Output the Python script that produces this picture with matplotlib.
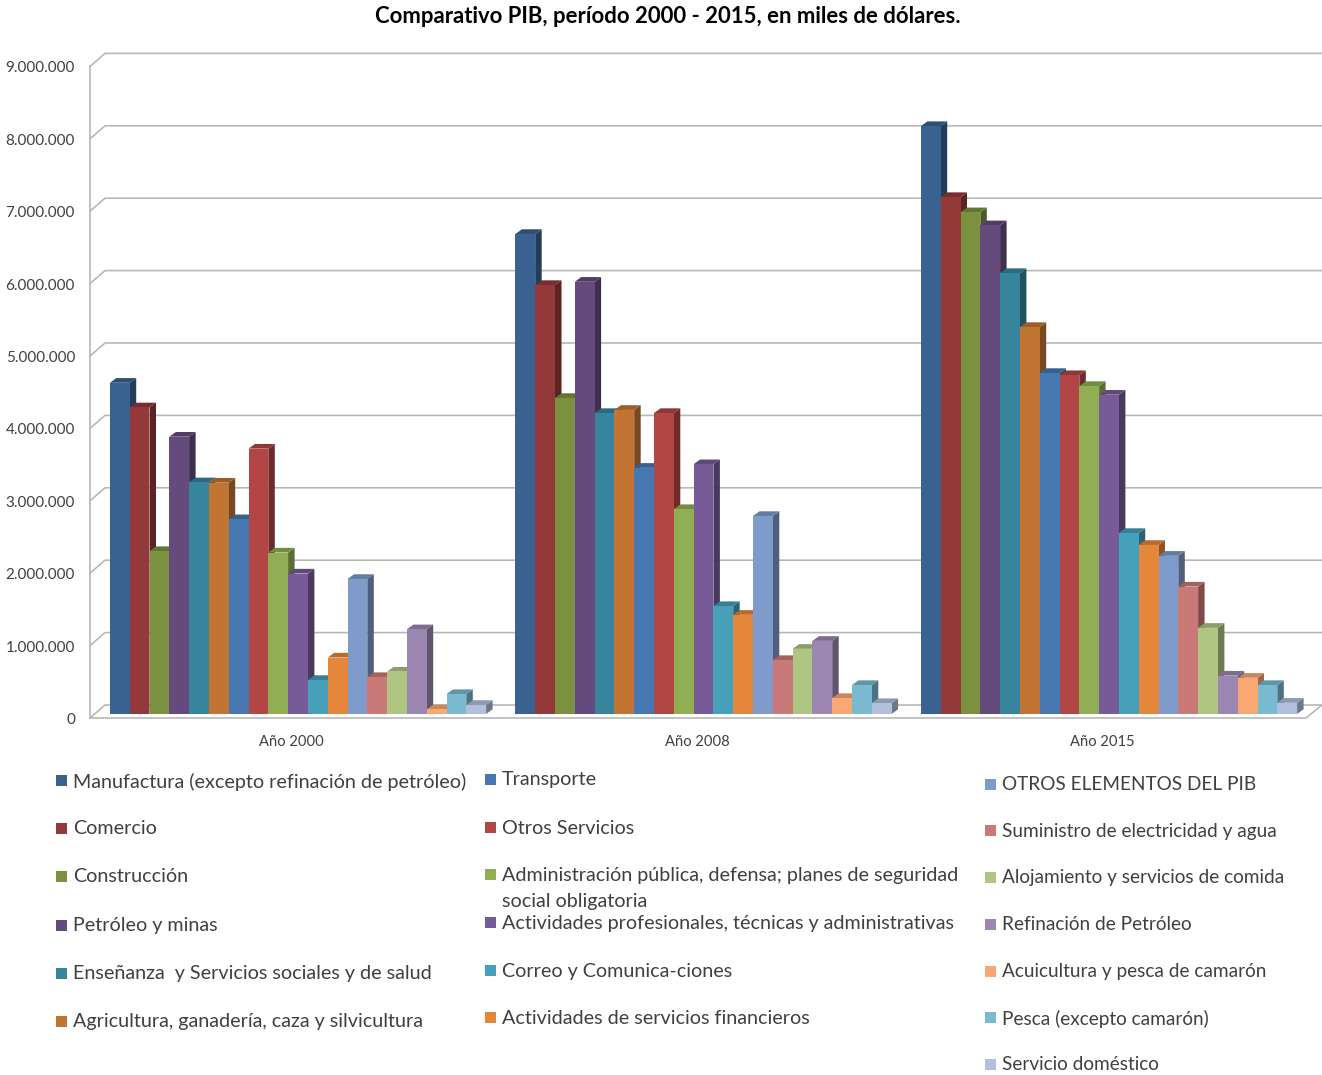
from matplotlib import pyplot as plt
from matplotlib.colors import to_rgb
from matplotlib.patches import Rectangle

plt.rcParams['font.family'] = ['Lato', 'DejaVu Sans']

title = "Comparativo PIB, período 2000 - 2015, en miles de dólares."
years = ["Año 2000", "Año 2008", "Año 2015"]
y_ticks = [0, 1000000, 2000000, 3000000, 4000000, 5000000, 6000000, 7000000, 8000000, 9000000]
y_labels = ["0", "1.000.000", "2.000.000", "3.000.000", "4.000.000", "5.000.000",
            "6.000.000", "7.000.000", "8.000.000", "9.000.000"]

series = ["Manufactura (excepto refinación de petróleo)", "Comercio", "Construcción",
          "Petróleo y minas", "Enseñanza  y Servicios sociales y de salud",
          "Agricultura, ganadería, caza y silvicultura", "Transporte", "Otros Servicios",
          "Administración pública, defensa; planes de seguridad\nsocial obligatoria",
          "Actividades profesionales, técnicas y administrativas",
          "Correo y Comunica-ciones", "Actividades de servicios financieros",
          "OTROS ELEMENTOS DEL PIB", "Suministro de electricidad y agua",
          "Alojamiento y servicios de comida", "Refinación de Petróleo",
          "Acuicultura y pesca de camarón", "Pesca (excepto camarón)", "Servicio doméstico"]

colors = ["#3A6291", "#93393A", "#7C9140", "#654B7D", "#37849D", "#C27533", "#4677B1",
          "#B14644", "#91AF52", "#775B98", "#46A0BA", "#E5873A", "#7E9BCB", "#C97A78",
          "#AEC682", "#9C87B3", "#F9A873", "#7ABAD1", "#B2C0DE"]

values_2000 = [4575000, 4235000, 2250000, 3830000, 3200000, 3195000, 2690000, 3665000, 2230000,
               1940000, 470000, 780000, 1865000, 510000, 585000, 1170000, 65000, 275000, 125000]
values_2008 = [6630000, 5925000, 4365000, 5970000, 4157000, 4200000, 3400000, 4157000, 2830000,
               3450000, 1490000, 1370000, 2735000, 745000, 900000, 1010000, 220000, 400000, 150000]
values_2015 = [8120000, 7140000, 6930000, 6750000, 6090000, 5345000, 4710000, 4680000, 4530000,
               4410000, 2500000, 2335000, 2185000, 1760000, 1190000, 530000, 500000, 400000, 155000]
all_values = [values_2000, values_2008, values_2015]

W, H = 1322, 1075
X0_PX, GROUP_PX, BAR_PX = 298.0, 405.5, 19.8   # centre of first group, group spacing, bar width
Y0_PX, M_PX = 714.0, 72.4                      # pixel of zero at bar front, pixels per million
DEPTH_X, DEPTH_Y = 6.5, 4.7                    # 3d look of the bars


def x_of(px):
    return (px - X0_PX) / GROUP_PX


def y_of(py):
    return (Y0_PX - py) / M_PX * 1e6


def shade(c, k):
    r, g, b = to_rgb(c)
    return (r * k, g * k, b * k)


fig = plt.figure(figsize=(W / 100, H / 100), dpi=100)
ax = fig.add_axes([0, 0, 1, 1])
ax.set_xlim(x_of(0), x_of(W))
ax.set_ylim(y_of(H), y_of(0))
ax.axis("off")

grid_c = "#B8B8B8"
back_shift = y_of(705)
front_shift = y_of(718)
for t in y_ticks:
    ax.plot([x_of(90), x_of(105), x_of(W)], [t + front_shift, t + back_shift, t + back_shift],
            color=grid_c, lw=1.2, zorder=1)
ax.plot([x_of(90), x_of(90)], [front_shift, 9000000 + front_shift], color=grid_c, lw=1.2, zorder=1)
ax.plot([x_of(90), x_of(1306), x_of(W)], [front_shift, front_shift, back_shift],
        color=grid_c, lw=1.2, zorder=1)

for t, lab in zip(y_ticks, y_labels):
    ax.text(x_of(75), t + front_shift - 2 / M_PX * 1e6, lab, ha="right", va="center",
            fontsize=11, color="#404040")

dx = DEPTH_X / GROUP_PX
dy = DEPTH_Y / M_PX * 1e6
w = BAR_PX / GROUP_PX

for g, vals in enumerate(all_values):
    for i, v in enumerate(vals):
        left = g + (i - 9.5) * w
        z = 2 + i
        ax.fill([left + w, left + w + dx, left + w + dx, left + w], [0, dy, v + dy, v],
                color=shade(colors[i], 0.62), lw=0, zorder=z)
        ax.fill([left, left + w, left + w + dx, left + dx], [v, v, v + dy, v + dy],
                color=shade(colors[i], 0.8), lw=0, zorder=z)
        ax.bar(left, v, width=w, align="edge", color=colors[i], lw=0, zorder=z)
    ax.text(g - 6.5 / GROUP_PX, y_of(742), years[g], ha="center", va="center",
            fontsize=10.6, color="#404040")

ax.text(x_of(668), y_of(16), title, ha="center", va="center", fontsize=15.9, fontweight="bold",
        color="black")

# legend is laid out by hand, the rows of the three columns do not line up
col_x = [56, 485, 985]
col_size = [14.2, 14.2, 13.7]
col_y = [[780, 828, 876, 925, 973, 1021],
         [779, 827, 874, 922, 970, 1017],
         [784, 830, 877, 924, 971, 1017, 1064]]
k = 0
for cx, fs, rows in zip(col_x, col_size, col_y):
    for ry in rows:
        ax.add_patch(Rectangle((x_of(cx), y_of(ry + 5.5)), 11 / GROUP_PX, 11 / M_PX * 1e6,
                               color=colors[k], lw=0, zorder=30))
        ax.text(x_of(cx + 17), y_of(ry - 7.5), series[k], ha="left", va="top", fontsize=fs,
                color="#404040", linespacing=1.7, zorder=30)
        k += 1

fig.savefig("out.png", dpi=100)
